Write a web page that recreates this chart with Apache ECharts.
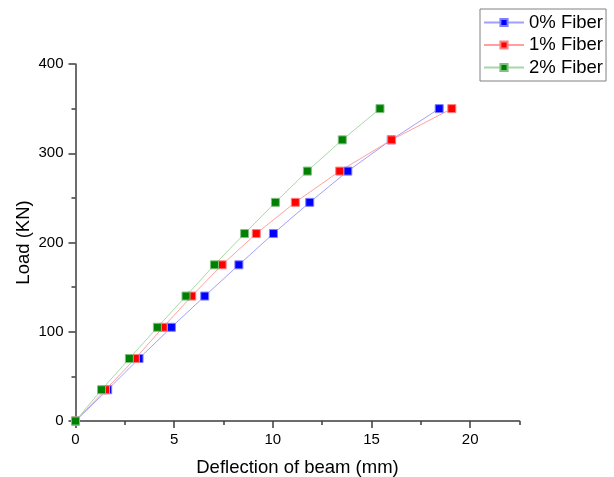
<!DOCTYPE html>
<html>
<head>
<meta charset="utf-8">
<script src="https://cdn.jsdelivr.net/npm/echarts@6/dist/echarts.min.js"></script>
<style>
  html, body { margin: 0; padding: 0; background: #fff; }
  #chart { width: 614px; height: 477px; }
</style>
</head>
<body>
<div id="chart"></div>
<script>
// Load steps (KN) applied to each beam
const loads = [0, 35, 70, 105, 140, 175, 210, 245, 280, 315, 350];
// Mid-span deflection (mm) at each load step
const defl0 = [0, 1.63, 3.22, 4.86, 6.55, 8.28, 10.03, 11.87, 13.80, 16.00, 18.43];
const defl1 = [0, 1.52, 3.03, 4.44, 5.89, 7.43, 9.16, 11.14, 13.39, 16.02, 19.07];
const defl2 = [0, 1.32, 2.73, 4.15, 5.60, 7.04, 8.57, 10.13, 11.75, 13.52, 15.43];
const seriesNames = ['0% Fiber', '1% Fiber', '2% Fiber'];

// Axis ticks
const xMajorTicks = [0, 5, 10, 15, 20];
const xMinorTicks = [2.5, 7.5, 12.5, 17.5, 22.5];
const yMajorTicks = [0, 100, 200, 300, 400];
const yMinorTicks = [50, 150, 250, 350];

const FONT = 'Liberation Sans, Arial, sans-serif';
const AXIS_COLOR = '#3c3c3c';

function pairs(xs, ys) {
  return xs.map((x, i) => [x, ys[i]]);
}

function makeSeries(name, xs, fill, border, lineColor) {
  return {
    name: name,
    type: 'line',
    data: pairs(xs, loads),
    symbol: 'rect',
    symbolSize: 8,
    showAllSymbol: true,
    itemStyle: { color: fill, borderColor: border, borderWidth: 1 },
    lineStyle: { color: lineColor, width: 1 },
    emphasis: { disabled: true },
    animation: false
  };
}

const chart = echarts.init(document.getElementById('chart'), null, { renderer: 'canvas' });

const grid = {
  left: 75.5, right: 94.5, top: 64, bottom: 56,
  containLabel: false,
  outerBoundsMode: 'none'
};

chart.setOption({
  backgroundColor: '#ffffff',
  textStyle: { fontFamily: FONT },
  grid: grid,
  legend: {
    orient: 'vertical',
    left: 480,
    top: 9,
    padding: [4, 3, 4, 3],
    itemWidth: 40,
    itemHeight: 9,
    itemGap: 3.5,
    borderColor: '#808080',
    borderWidth: 1,
    borderRadius: 0,
    textStyle: { fontFamily: FONT, fontSize: 18.5, color: '#000' },
    data: seriesNames
  },
  xAxis: [
    {
      type: 'value',
      min: 0,
      max: 22.5,
      interval: 5,
      name: 'Deflection of beam (mm)',
      nameLocation: 'middle',
      nameGap: 37,
      nameMoveOverlap: false,
      nameTextStyle: { fontFamily: FONT, fontSize: 18.5, color: '#000' },
      axisLine: { show: true, onZero: false, lineStyle: { color: AXIS_COLOR, width: 1.5 } },
      axisTick: { show: true, inside: false, length: 7, customValues: xMajorTicks,
                  lineStyle: { color: AXIS_COLOR, width: 1.5 } },
      axisLabel: { customValues: xMajorTicks, margin: 11, fontFamily: FONT, fontSize: 15, color: '#000' },
      splitLine: { show: false }
    },
    {
      type: 'value',
      min: 0,
      max: 22.5,
      position: 'bottom',
      axisLine: { show: false },
      axisTick: { show: true, length: 4, customValues: xMinorTicks,
                  lineStyle: { color: AXIS_COLOR, width: 1.5 } },
      axisLabel: { show: false },
      splitLine: { show: false }
    }
  ],
  yAxis: [
    {
      type: 'value',
      min: 0,
      max: 400,
      interval: 100,
      name: 'Load (KN)',
      nameLocation: 'middle',
      nameGap: 42,
      nameMoveOverlap: false,
      nameTextStyle: { fontFamily: FONT, fontSize: 18.5, color: '#000' },
      axisLine: { show: true, onZero: false, lineStyle: { color: AXIS_COLOR, width: 1.5 } },
      axisTick: { show: true, length: 7, customValues: yMajorTicks,
                  lineStyle: { color: AXIS_COLOR, width: 1.5 } },
      axisLabel: { customValues: yMajorTicks, margin: 12, fontFamily: FONT, fontSize: 15, color: '#000' },
      splitLine: { show: false }
    },
    {
      type: 'value',
      min: 0,
      max: 400,
      position: 'left',
      axisLine: { show: false },
      axisTick: { show: true, length: 4, customValues: yMinorTicks,
                  lineStyle: { color: AXIS_COLOR, width: 1.5 } },
      axisLabel: { show: false },
      splitLine: { show: false }
    }
  ],
  series: [
    makeSeries(seriesNames[0], defl0, '#0000ff', '#8080ff', '#a0a0ff'),
    makeSeries(seriesNames[1], defl1, '#ff0000', '#ff8080', '#ffa0a0'),
    makeSeries(seriesNames[2], defl2, '#008000', '#80c080', '#a8d8a8')
  ]
});
</script>
</body>
</html>
